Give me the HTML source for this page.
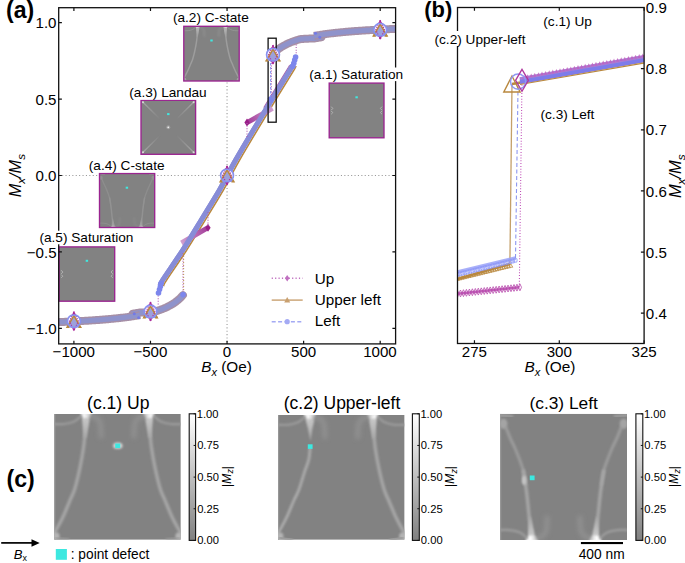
<!DOCTYPE html><html><head><meta charset="utf-8"><style>
html,body{margin:0;padding:0;background:#fff;overflow:hidden}svg{display:block}
text{font-family:"Liberation Sans",sans-serif;fill:#000}
</style></head><body>
<svg width="685" height="563" viewBox="0 0 685 563">
<defs>
<filter id="bl1" x="-30%" y="-30%" width="160%" height="160%"><feGaussianBlur stdDeviation="0.9"/></filter>
<filter id="bl2" x="-50%" y="-50%" width="200%" height="200%"><feGaussianBlur stdDeviation="2"/></filter>
<filter id="bl05" x="-30%" y="-30%" width="160%" height="160%"><feGaussianBlur stdDeviation="0.5"/></filter>
<linearGradient id="cbar" x1="0" y1="0" x2="0" y2="1"><stop offset="0" stop-color="#ffffff"/><stop offset="1" stop-color="#808080"/></linearGradient>
<radialGradient id="glow"><stop offset="0" stop-color="#fff" stop-opacity="1"/><stop offset="1" stop-color="#fff" stop-opacity="0"/></radialGradient>
<clipPath id="clipA"><rect x="58.7" y="7.7" width="336.9" height="336.2"/></clipPath>
<clipPath id="clipB"><rect x="457.5" y="7.5" width="186.6" height="336.0"/></clipPath>
</defs>
<defs>
<filter id="pb08" x="-50%" y="-50%" width="200%" height="200%"><feGaussianBlur stdDeviation="0.8"/></filter>
<filter id="pb1" x="-50%" y="-50%" width="200%" height="200%"><feGaussianBlur stdDeviation="1"/></filter>
<filter id="pb12" x="-50%" y="-50%" width="200%" height="200%"><feGaussianBlur stdDeviation="1.2"/></filter>
<filter id="pb2" x="-50%" y="-50%" width="200%" height="200%"><feGaussianBlur stdDeviation="2"/></filter>
<linearGradient id="vg2" x1="0" y1="0" x2="0" y2="1"><stop offset="0" stop-color="#cfcfcf"/><stop offset="1" stop-color="#a6a6a6"/></linearGradient>
<linearGradient id="vg3" x1="0" y1="0" x2="0" y2="1"><stop offset="0" stop-color="#a6a6a6"/><stop offset="1" stop-color="#d2d2d2"/></linearGradient>
<linearGradient id="vg" x1="0" y1="0" x2="0" y2="1"><stop offset="0" stop-color="#d0d0d0"/><stop offset="1" stop-color="#a0a0a0"/></linearGradient>
<symbol id="pc1" viewBox="0 0 126.8 125.5" preserveAspectRatio="none" overflow="hidden">
<rect x="0" y="0" width="126.8" height="125.5" fill="#828282"/>
<rect x="0" y="0" width="1.2" height="125.5" fill="#979797"/>
<path d="M32.00,0.00 C31.87,2.50 31.65,9.33 31.20,15.00 C30.75,20.67 30.25,27.33 29.30,34.00 C28.35,40.67 26.97,48.17 25.50,55.00 C24.03,61.83 22.10,69.83 20.50,75.00 C18.90,80.17 17.80,81.50 15.90,86.00 C14.00,90.50 11.18,97.50 9.10,102.00 C7.02,106.50 4.92,110.25 3.40,113.00 C1.88,115.75 0.57,117.58 0.00,118.50" fill="none" stroke="#a6a6a6" stroke-width="3.4" stroke-linecap="round" filter="url(#pb1)" opacity="1"/>
<path d="M27.5,0 L36.5,0 L32.2,24 L29.6,24 Z" fill="url(#vg2)" filter="url(#pb12)"/>
<ellipse cx="32" cy="0" rx="5.5" ry="4" fill="#fff" filter="url(#pb12)" opacity="0.8"/>
<path d="M27.00,2.00 C25.83,2.92 22.83,6.17 20.00,7.50 C17.17,8.83 13.33,9.58 10.00,10.00 C6.67,10.42 1.67,10.00 0.00,10.00" fill="none" stroke="#9c9c9c" stroke-width="2.2" stroke-linecap="round" filter="url(#pb1)" opacity="1"/>
<path d="M36.50,2.00 C37.42,2.25 40.42,2.33 42.00,3.50 C43.58,4.67 45.17,5.92 46.00,9.00 C46.83,12.08 46.83,19.83 47.00,22.00" fill="none" stroke="#909090" stroke-width="5" stroke-linecap="round" filter="url(#pb2)" opacity="1"/>
<ellipse cx="1.5" cy="122" rx="4" ry="4" fill="#b4b4b4" filter="url(#pb12)"/>
<path d="M2.00,123.50 C3.00,123.67 6.00,124.25 8.00,124.50 C10.00,124.75 13.00,124.92 14.00,125.00" fill="none" stroke="#9c9c9c" stroke-width="2" stroke-linecap="round" filter="url(#pb08)" opacity="1"/>
<path d="M94.80,0.00 C94.93,2.50 95.15,9.33 95.60,15.00 C96.05,20.67 96.55,27.33 97.50,34.00 C98.45,40.67 99.83,48.17 101.30,55.00 C102.77,61.83 104.70,69.83 106.30,75.00 C107.90,80.17 109.00,81.50 110.90,86.00 C112.80,90.50 115.62,97.50 117.70,102.00 C119.78,106.50 121.88,110.25 123.40,113.00 C124.92,115.75 126.23,117.58 126.80,118.50" fill="none" stroke="#a6a6a6" stroke-width="3.4" stroke-linecap="round" filter="url(#pb1)" opacity="1"/>
<path d="M99.3,0 L90.3,0 L94.6,24 L97.19999999999999,24 Z" fill="url(#vg2)" filter="url(#pb12)"/>
<ellipse cx="94.8" cy="0" rx="5.5" ry="4" fill="#fff" filter="url(#pb12)" opacity="0.8"/>
<path d="M99.80,2.00 C100.97,2.92 103.97,6.17 106.80,7.50 C109.63,8.83 113.47,9.58 116.80,10.00 C120.13,10.42 125.13,10.00 126.80,10.00" fill="none" stroke="#9c9c9c" stroke-width="2.2" stroke-linecap="round" filter="url(#pb1)" opacity="1"/>
<path d="M90.30,2.00 C89.38,2.25 86.38,2.33 84.80,3.50 C83.22,4.67 81.63,5.92 80.80,9.00 C79.97,12.08 79.97,19.83 79.80,22.00" fill="none" stroke="#909090" stroke-width="5" stroke-linecap="round" filter="url(#pb2)" opacity="1"/>
<ellipse cx="125.3" cy="122" rx="4" ry="4" fill="#b4b4b4" filter="url(#pb12)"/>
<path d="M124.80,123.50 C123.80,123.67 120.80,124.25 118.80,124.50 C116.80,124.75 113.80,124.92 112.80,125.00" fill="none" stroke="#9c9c9c" stroke-width="2" stroke-linecap="round" filter="url(#pb08)" opacity="1"/>
</symbol>
<symbol id="pc2" viewBox="0 0 126.8 125.5" preserveAspectRatio="none" overflow="hidden">
<rect x="0" y="0" width="126.8" height="125.5" fill="#828282"/>
<rect x="0" y="0" width="1.2" height="125.5" fill="#979797"/>
<path d="M26.5,0 Q30.5,14 32.5,27 Q34.0,14 37.5,0 Z" fill="url(#vg)" filter="url(#pb08)"/>
<path d="M32.00,35.00 C31.80,36.67 31.68,41.33 30.80,45.00 C29.92,48.67 28.33,52.00 26.70,57.00 C25.07,62.00 22.80,70.17 21.00,75.00 C19.20,79.83 17.88,81.50 15.90,86.00 C13.92,90.50 11.18,97.50 9.10,102.00 C7.02,106.50 4.92,110.25 3.40,113.00 C1.88,115.75 0.57,117.58 0.00,118.50" fill="none" stroke="#a9a9a9" stroke-width="3" stroke-linecap="round" filter="url(#pb08)" opacity="1"/>
<ellipse cx="32" cy="0" rx="5.5" ry="4" fill="#fff" filter="url(#pb12)" opacity="0.8"/>
<path d="M27.00,2.00 C25.83,2.92 22.83,6.17 20.00,7.50 C17.17,8.83 13.33,9.58 10.00,10.00 C6.67,10.42 1.67,10.00 0.00,10.00" fill="none" stroke="#9c9c9c" stroke-width="2.2" stroke-linecap="round" filter="url(#pb1)" opacity="1"/>
<path d="M36.50,2.00 C37.42,2.25 40.42,2.33 42.00,3.50 C43.58,4.67 45.17,5.92 46.00,9.00 C46.83,12.08 46.83,19.83 47.00,22.00" fill="none" stroke="#909090" stroke-width="5" stroke-linecap="round" filter="url(#pb2)" opacity="1"/>
<ellipse cx="1.5" cy="122" rx="4" ry="4" fill="#b4b4b4" filter="url(#pb12)"/>
<path d="M2.00,123.50 C3.00,123.67 6.00,124.25 8.00,124.50 C10.00,124.75 13.00,124.92 14.00,125.00" fill="none" stroke="#9c9c9c" stroke-width="2" stroke-linecap="round" filter="url(#pb08)" opacity="1"/>
<path d="M94.80,0.00 C94.93,2.50 95.15,9.33 95.60,15.00 C96.05,20.67 96.55,27.33 97.50,34.00 C98.45,40.67 99.83,48.17 101.30,55.00 C102.77,61.83 104.70,69.83 106.30,75.00 C107.90,80.17 109.00,81.50 110.90,86.00 C112.80,90.50 115.62,97.50 117.70,102.00 C119.78,106.50 121.88,110.25 123.40,113.00 C124.92,115.75 126.23,117.58 126.80,118.50" fill="none" stroke="#a6a6a6" stroke-width="3.4" stroke-linecap="round" filter="url(#pb1)" opacity="1"/>
<path d="M99.3,0 L90.3,0 L94.6,24 L97.19999999999999,24 Z" fill="url(#vg2)" filter="url(#pb12)"/>
<ellipse cx="94.8" cy="0" rx="5.5" ry="4" fill="#fff" filter="url(#pb12)" opacity="0.8"/>
<path d="M99.80,2.00 C100.97,2.92 103.97,6.17 106.80,7.50 C109.63,8.83 113.47,9.58 116.80,10.00 C120.13,10.42 125.13,10.00 126.80,10.00" fill="none" stroke="#9c9c9c" stroke-width="2.2" stroke-linecap="round" filter="url(#pb1)" opacity="1"/>
<path d="M90.30,2.00 C89.38,2.25 86.38,2.33 84.80,3.50 C83.22,4.67 81.63,5.92 80.80,9.00 C79.97,12.08 79.97,19.83 79.80,22.00" fill="none" stroke="#909090" stroke-width="5" stroke-linecap="round" filter="url(#pb2)" opacity="1"/>
<ellipse cx="125.3" cy="122" rx="4" ry="4" fill="#b4b4b4" filter="url(#pb12)"/>
<path d="M124.80,123.50 C123.80,123.67 120.80,124.25 118.80,124.50 C116.80,124.75 113.80,124.92 112.80,125.00" fill="none" stroke="#9c9c9c" stroke-width="2" stroke-linecap="round" filter="url(#pb08)" opacity="1"/>
</symbol>
<symbol id="pc3" viewBox="0 0 126.8 125.5" preserveAspectRatio="none" overflow="hidden">
<rect x="0" y="0" width="126.8" height="125.5" fill="#828282"/>
<rect x="0" y="0" width="1.2" height="125.5" fill="#979797"/>
<path d="M6.00,14.00 C6.67,15.67 8.53,20.67 10.00,24.00 C11.47,27.33 13.13,30.17 14.80,34.00 C16.47,37.83 18.58,43.17 20.00,47.00 C21.42,50.83 22.40,53.17 23.30,57.00 C24.20,60.83 25.05,67.83 25.40,70.00" fill="none" stroke="#9c9c9c" stroke-width="3" stroke-linecap="round" filter="url(#pb1)" opacity="1"/>
<path d="M23.30,57.00 C23.65,59.17 24.73,65.33 25.40,70.00 C26.07,74.67 26.62,78.83 27.30,85.00 C27.98,91.17 28.75,100.17 29.50,107.00 C30.25,113.83 31.42,122.83 31.80,126.00" fill="none" stroke="#a6a6a6" stroke-width="3.4" stroke-linecap="round" filter="url(#pb1)" opacity="1"/>
<path d="M29.2,102 L30.6,102 L36,126 L27.5,126 Z" fill="url(#vg3)" filter="url(#pb12)"/>
<ellipse cx="31.8" cy="125.5" rx="6" ry="4.5" fill="#fff" filter="url(#pb12)" opacity="0.95"/>
<path d="M27.00,123.50 C25.83,122.58 22.83,119.33 20.00,118.00 C17.17,116.67 13.33,115.92 10.00,115.50 C6.67,115.08 1.67,115.50 0.00,115.50" fill="none" stroke="#9e9e9e" stroke-width="2.2" stroke-linecap="round" filter="url(#pb08)" opacity="1"/>
<path d="M36.50,123.50 C37.42,123.25 40.42,123.17 42.00,122.00 C43.58,120.83 45.17,119.58 46.00,116.50 C46.83,113.42 46.83,105.67 47.00,103.50" fill="none" stroke="#909090" stroke-width="5" stroke-linecap="round" filter="url(#pb2)" opacity="1"/>
<ellipse cx="3.4" cy="10" rx="4" ry="5" fill="#a4a4a4" filter="url(#pb12)"/>
<path d="M0.00,1.50 C1.00,1.58 4.00,1.83 6.00,2.00 C8.00,2.17 11.00,2.42 12.00,2.50" fill="none" stroke="#a0a0a0" stroke-width="2.5" stroke-linecap="round" filter="url(#pb08)" opacity="1"/>
<ellipse cx="24" cy="66" rx="2.2" ry="4.5" fill="#c4c4c4" filter="url(#pb08)"/>
<path d="M120.80,14.00 C120.13,15.67 118.27,20.67 116.80,24.00 C115.33,27.33 113.67,30.17 112.00,34.00 C110.33,37.83 108.22,43.17 106.80,47.00 C105.38,50.83 104.40,53.17 103.50,57.00 C102.60,60.83 101.75,67.83 101.40,70.00" fill="none" stroke="#9c9c9c" stroke-width="3" stroke-linecap="round" filter="url(#pb1)" opacity="1"/>
<path d="M103.50,57.00 C103.15,59.17 102.07,65.33 101.40,70.00 C100.73,74.67 100.18,78.83 99.50,85.00 C98.82,91.17 98.05,100.17 97.30,107.00 C96.55,113.83 95.38,122.83 95.00,126.00" fill="none" stroke="#a6a6a6" stroke-width="3.4" stroke-linecap="round" filter="url(#pb1)" opacity="1"/>
<path d="M97.6,102 L96.19999999999999,102 L90.8,126 L99.3,126 Z" fill="url(#vg3)" filter="url(#pb12)"/>
<ellipse cx="95.0" cy="125.5" rx="6" ry="4.5" fill="#fff" filter="url(#pb12)" opacity="0.95"/>
<path d="M99.80,123.50 C100.97,122.58 103.97,119.33 106.80,118.00 C109.63,116.67 113.47,115.92 116.80,115.50 C120.13,115.08 125.13,115.50 126.80,115.50" fill="none" stroke="#9e9e9e" stroke-width="2.2" stroke-linecap="round" filter="url(#pb08)" opacity="1"/>
<path d="M90.30,123.50 C89.38,123.25 86.38,123.17 84.80,122.00 C83.22,120.83 81.63,119.58 80.80,116.50 C79.97,113.42 79.97,105.67 79.80,103.50" fill="none" stroke="#909090" stroke-width="5" stroke-linecap="round" filter="url(#pb2)" opacity="1"/>
<ellipse cx="123.39999999999999" cy="10" rx="4" ry="5" fill="#a4a4a4" filter="url(#pb12)"/>
<path d="M126.80,1.50 C125.80,1.58 122.80,1.83 120.80,2.00 C118.80,2.17 115.80,2.42 114.80,2.50" fill="none" stroke="#a0a0a0" stroke-width="2.5" stroke-linecap="round" filter="url(#pb08)" opacity="1"/>
</symbol>
<symbol id="pa4" viewBox="0 0 126.8 125.5" preserveAspectRatio="none" overflow="hidden">
<rect x="0" y="0" width="126.8" height="125.5" fill="#828282"/>
<rect x="0" y="0" width="1.2" height="125.5" fill="#979797"/>
<path d="M6.00,14.00 C6.67,15.67 8.53,20.67 10.00,24.00 C11.47,27.33 13.13,30.17 14.80,34.00 C16.47,37.83 18.58,43.17 20.00,47.00 C21.42,50.83 22.40,53.17 23.30,57.00 C24.20,60.83 25.05,67.83 25.40,70.00" fill="none" stroke="#9c9c9c" stroke-width="3" stroke-linecap="round" filter="url(#pb1)" opacity="1"/>
<path d="M23.30,57.00 C23.65,59.17 24.73,65.33 25.40,70.00 C26.07,74.67 26.62,78.83 27.30,85.00 C27.98,91.17 28.75,100.17 29.50,107.00 C30.25,113.83 31.42,122.83 31.80,126.00" fill="none" stroke="#a6a6a6" stroke-width="3.4" stroke-linecap="round" filter="url(#pb1)" opacity="1"/>
<path d="M29.2,102 L30.6,102 L36,126 L27.5,126 Z" fill="url(#vg3)" filter="url(#pb12)"/>
<ellipse cx="31.8" cy="125.5" rx="6" ry="4.5" fill="#fff" filter="url(#pb12)" opacity="0.95"/>
<path d="M27.00,123.50 C25.83,122.58 22.83,119.33 20.00,118.00 C17.17,116.67 13.33,115.92 10.00,115.50 C6.67,115.08 1.67,115.50 0.00,115.50" fill="none" stroke="#9e9e9e" stroke-width="2.2" stroke-linecap="round" filter="url(#pb08)" opacity="1"/>
<path d="M36.50,123.50 C37.42,123.25 40.42,123.17 42.00,122.00 C43.58,120.83 45.17,119.58 46.00,116.50 C46.83,113.42 46.83,105.67 47.00,103.50" fill="none" stroke="#909090" stroke-width="5" stroke-linecap="round" filter="url(#pb2)" opacity="1"/>
<ellipse cx="3.4" cy="10" rx="4" ry="5" fill="#a4a4a4" filter="url(#pb12)"/>
<path d="M0.00,1.50 C1.00,1.58 4.00,1.83 6.00,2.00 C8.00,2.17 11.00,2.42 12.00,2.50" fill="none" stroke="#a0a0a0" stroke-width="2.5" stroke-linecap="round" filter="url(#pb08)" opacity="1"/>
<path d="M120.80,14.00 C120.13,15.67 118.27,20.67 116.80,24.00 C115.33,27.33 113.67,30.17 112.00,34.00 C110.33,37.83 108.22,43.17 106.80,47.00 C105.38,50.83 104.40,53.17 103.50,57.00 C102.60,60.83 101.75,67.83 101.40,70.00" fill="none" stroke="#9c9c9c" stroke-width="3" stroke-linecap="round" filter="url(#pb1)" opacity="1"/>
<path d="M103.50,57.00 C103.15,59.17 102.07,65.33 101.40,70.00 C100.73,74.67 100.18,78.83 99.50,85.00 C98.82,91.17 98.05,100.17 97.30,107.00 C96.55,113.83 95.38,122.83 95.00,126.00" fill="none" stroke="#a6a6a6" stroke-width="3.4" stroke-linecap="round" filter="url(#pb1)" opacity="1"/>
<path d="M97.6,102 L96.19999999999999,102 L90.8,126 L99.3,126 Z" fill="url(#vg3)" filter="url(#pb12)"/>
<ellipse cx="95.0" cy="125.5" rx="6" ry="4.5" fill="#fff" filter="url(#pb12)" opacity="0.95"/>
<path d="M99.80,123.50 C100.97,122.58 103.97,119.33 106.80,118.00 C109.63,116.67 113.47,115.92 116.80,115.50 C120.13,115.08 125.13,115.50 126.80,115.50" fill="none" stroke="#9e9e9e" stroke-width="2.2" stroke-linecap="round" filter="url(#pb08)" opacity="1"/>
<path d="M90.30,123.50 C89.38,123.25 86.38,123.17 84.80,122.00 C83.22,120.83 81.63,119.58 80.80,116.50 C79.97,113.42 79.97,105.67 79.80,103.50" fill="none" stroke="#909090" stroke-width="5" stroke-linecap="round" filter="url(#pb2)" opacity="1"/>
<ellipse cx="123.39999999999999" cy="10" rx="4" ry="5" fill="#a4a4a4" filter="url(#pb12)"/>
<path d="M126.80,1.50 C125.80,1.58 122.80,1.83 120.80,2.00 C118.80,2.17 115.80,2.42 114.80,2.50" fill="none" stroke="#a0a0a0" stroke-width="2.5" stroke-linecap="round" filter="url(#pb08)" opacity="1"/>
</symbol>
</defs>
<line x1="227.05" y1="7.7" x2="227.05" y2="343.9" stroke="#9a9a9a" stroke-width="1.1" stroke-dasharray="1.1 2.3"/>
<line x1="58.7" y1="175.50" x2="395.6" y2="175.50" stroke="#9a9a9a" stroke-width="1.1" stroke-dasharray="1.1 2.3"/>
<g clip-path="url(#clipA)">
<path d="M271.20,55.79 L272.20,54.67 L273.20,53.62 L274.20,52.64 L275.20,51.72 L276.20,50.86 L277.20,50.04 L278.20,49.28 L279.20,48.55 L280.20,47.86 L281.20,47.21 L282.20,46.59 L283.20,46.00 L284.20,45.44 L285.20,44.91 L286.20,44.40 L287.20,43.91 L288.20,43.44 L289.20,43.00 L290.20,42.57 L291.20,42.16 L292.20,41.77 L293.20,41.39 L294.20,41.03 L295.20,40.68 L296.20,40.35 L297.20,40.02 L298.20,39.71 L299.20,39.41 L300.20,39.16 L301.20,39.06 L302.20,38.98 L303.20,38.90 L304.20,38.83 L305.20,38.77 L306.20,38.72 L307.20,38.68 L308.20,38.64 L309.20,38.61 L310.20,38.58 L311.20,38.57 L312.20,38.55 L313.20,38.55 L314.20,38.51 L315.20,38.33 L316.20,38.15 L317.20,37.98 L318.20,37.81 L319.20,37.65 L320.20,37.49 L321.20,37.33" fill="none" stroke="#a68fa6" stroke-width="8" stroke-linecap="round"/>
<path d="M271.20,55.79 L272.20,54.67 L273.20,53.62 L274.20,52.64 L275.20,51.72 L276.20,50.86 L277.20,50.04 L278.20,49.28 L279.20,48.55 L280.20,47.86 L281.20,47.21 L282.20,46.59 L283.20,46.00 L284.20,45.44 L285.20,44.91 L286.20,44.40 L287.20,43.91 L288.20,43.44 L289.20,43.00 L290.20,42.57 L291.20,42.16 L292.20,41.77 L293.20,41.39 L294.20,41.03 L295.20,40.68 L296.20,40.35 L297.20,40.02 L298.20,39.71 L299.20,39.41 L300.20,39.16 L301.20,39.06 L302.20,38.98 L303.20,38.90 L304.20,38.83 L305.20,38.77 L306.20,38.72 L307.20,38.68 L308.20,38.64 L309.20,38.61 L310.20,38.58 L311.20,38.57 L312.20,38.55 L313.20,38.55 L314.20,38.51 L315.20,38.33 L316.20,38.15 L317.20,37.98 L318.20,37.81 L319.20,37.65 L320.20,37.49 L321.20,37.33" fill="none" stroke="#8f93cb" stroke-width="5" stroke-linecap="round"/>
<path d="M182.90,295.21 L181.90,296.33 L180.90,297.38 L179.90,298.36 L178.90,299.28 L177.90,300.14 L176.90,300.96 L175.90,301.72 L174.90,302.45 L173.90,303.14 L172.90,303.79 L171.90,304.41 L170.90,305.00 L169.90,305.56 L168.90,306.09 L167.90,306.60 L166.90,307.09 L165.90,307.56 L164.90,308.00 L163.90,308.43 L162.90,308.84 L161.90,309.23 L160.90,309.61 L159.90,309.97 L158.90,310.32 L157.90,310.65 L156.90,310.98 L155.90,311.29 L154.90,311.59 L153.90,311.84 L152.90,311.94 L151.90,312.02 L150.90,312.10 L149.90,312.17 L148.90,312.23 L147.90,312.28 L146.90,312.32 L145.90,312.36 L144.90,312.39 L143.90,312.42 L142.90,312.43 L141.90,312.45 L140.90,312.45 L139.90,312.49 L138.90,312.67 L137.90,312.85 L136.90,313.02 L135.90,313.19 L134.90,313.35 L133.90,313.51 L132.90,313.67" fill="none" stroke="#a68fa6" stroke-width="8" stroke-linecap="round"/>
<path d="M182.90,295.21 L181.90,296.33 L180.90,297.38 L179.90,298.36 L178.90,299.28 L177.90,300.14 L176.90,300.96 L175.90,301.72 L174.90,302.45 L173.90,303.14 L172.90,303.79 L171.90,304.41 L170.90,305.00 L169.90,305.56 L168.90,306.09 L167.90,306.60 L166.90,307.09 L165.90,307.56 L164.90,308.00 L163.90,308.43 L162.90,308.84 L161.90,309.23 L160.90,309.61 L159.90,309.97 L158.90,310.32 L157.90,310.65 L156.90,310.98 L155.90,311.29 L154.90,311.59 L153.90,311.84 L152.90,311.94 L151.90,312.02 L150.90,312.10 L149.90,312.17 L148.90,312.23 L147.90,312.28 L146.90,312.32 L145.90,312.36 L144.90,312.39 L143.90,312.42 L142.90,312.43 L141.90,312.45 L140.90,312.45 L139.90,312.49 L138.90,312.67 L137.90,312.85 L136.90,313.02 L135.90,313.19 L134.90,313.35 L133.90,313.51 L132.90,313.67" fill="none" stroke="#8f93cb" stroke-width="5" stroke-linecap="round"/>
<path d="M314.00,35.95 L315.00,35.76 L316.00,35.58 L317.00,35.41 L318.00,35.24 L319.00,35.08 L320.00,34.92 L321.00,34.76 L322.00,34.61 L323.00,34.46 L324.00,34.32 L325.00,34.18 L326.00,34.04 L327.00,33.90 L328.00,33.77 L329.00,33.65 L330.00,33.52 L331.00,33.40 L332.00,33.28 L333.00,33.16 L334.00,33.05 L335.00,32.93 L336.00,32.82 L337.00,32.72 L338.00,32.61 L339.00,32.51 L340.00,32.41 L341.00,32.31 L342.00,32.21 L343.00,32.12 L344.00,32.03 L345.00,31.93 L346.00,31.85 L347.00,31.76 L348.00,31.67 L349.00,31.59 L350.00,31.50 L351.00,31.42 L352.00,31.34 L353.00,31.27 L354.00,31.19 L355.00,31.11 L356.00,31.04 L357.00,30.97 L358.00,30.89 L359.00,30.82 L360.00,30.75 L361.00,30.69 L362.00,30.62 L363.00,30.55 L364.00,30.49 L365.00,30.43 L366.00,30.36 L367.00,30.30 L368.00,30.24 L369.00,30.18 L370.00,30.12 L371.00,30.06 L372.00,30.01 L373.00,29.95 L374.00,29.90 L375.00,29.84 L376.00,29.79 L377.00,29.74 L378.00,29.68 L379.00,29.63 L380.00,29.58 L381.00,29.53 L382.00,29.48 L383.00,29.43 L384.00,29.39 L385.00,29.34 L386.00,29.29 L387.00,29.25 L388.00,29.20 L389.00,29.16 L390.00,29.12 L391.00,29.07 L392.00,29.03 L393.00,28.99 L394.00,28.95 L395.00,28.90 L396.00,28.86" fill="none" stroke="#a68fa6" stroke-width="8" stroke-linecap="butt"/>
<path d="M314.00,35.95 L315.00,35.76 L316.00,35.58 L317.00,35.41 L318.00,35.24 L319.00,35.08 L320.00,34.92 L321.00,34.76 L322.00,34.61 L323.00,34.46 L324.00,34.32 L325.00,34.18 L326.00,34.04 L327.00,33.90 L328.00,33.77 L329.00,33.65 L330.00,33.52 L331.00,33.40 L332.00,33.28 L333.00,33.16 L334.00,33.05 L335.00,32.93 L336.00,32.82 L337.00,32.72 L338.00,32.61 L339.00,32.51 L340.00,32.41 L341.00,32.31 L342.00,32.21 L343.00,32.12 L344.00,32.03 L345.00,31.93 L346.00,31.85 L347.00,31.76 L348.00,31.67 L349.00,31.59 L350.00,31.50 L351.00,31.42 L352.00,31.34 L353.00,31.27 L354.00,31.19 L355.00,31.11 L356.00,31.04 L357.00,30.97 L358.00,30.89 L359.00,30.82 L360.00,30.75 L361.00,30.69 L362.00,30.62 L363.00,30.55 L364.00,30.49 L365.00,30.43 L366.00,30.36 L367.00,30.30 L368.00,30.24 L369.00,30.18 L370.00,30.12 L371.00,30.06 L372.00,30.01 L373.00,29.95 L374.00,29.90 L375.00,29.84 L376.00,29.79 L377.00,29.74 L378.00,29.68 L379.00,29.63 L380.00,29.58 L381.00,29.53 L382.00,29.48 L383.00,29.43 L384.00,29.39 L385.00,29.34 L386.00,29.29 L387.00,29.25 L388.00,29.20 L389.00,29.16 L390.00,29.12 L391.00,29.07 L392.00,29.03 L393.00,28.99 L394.00,28.95 L395.00,28.90 L396.00,28.86" fill="none" stroke="#8f93cb" stroke-width="5" stroke-linecap="butt"/>
<path d="M140.10,315.05 L139.10,315.24 L138.10,315.42 L137.10,315.59 L136.10,315.76 L135.10,315.92 L134.10,316.08 L133.10,316.24 L132.10,316.39 L131.10,316.54 L130.10,316.68 L129.10,316.82 L128.10,316.96 L127.10,317.10 L126.10,317.23 L125.10,317.35 L124.10,317.48 L123.10,317.60 L122.10,317.72 L121.10,317.84 L120.10,317.95 L119.10,318.07 L118.10,318.18 L117.10,318.28 L116.10,318.39 L115.10,318.49 L114.10,318.59 L113.10,318.69 L112.10,318.79 L111.10,318.88 L110.10,318.97 L109.10,319.07 L108.10,319.15 L107.10,319.24 L106.10,319.33 L105.10,319.41 L104.10,319.50 L103.10,319.58 L102.10,319.66 L101.10,319.73 L100.10,319.81 L99.10,319.89 L98.10,319.96 L97.10,320.03 L96.10,320.11 L95.10,320.18 L94.10,320.25 L93.10,320.31 L92.10,320.38 L91.10,320.45 L90.10,320.51 L89.10,320.57 L88.10,320.64 L87.10,320.70 L86.10,320.76 L85.10,320.82 L84.10,320.88 L83.10,320.94 L82.10,320.99 L81.10,321.05 L80.10,321.10 L79.10,321.16 L78.10,321.21 L77.10,321.26 L76.10,321.32 L75.10,321.37 L74.10,321.42 L73.10,321.47 L72.10,321.52 L71.10,321.57 L70.10,321.61 L69.10,321.66 L68.10,321.71 L67.10,321.75 L66.10,321.80 L65.10,321.84 L64.10,321.88 L63.10,321.93 L62.10,321.97 L61.10,322.01 L60.10,322.05 L59.10,322.10 L58.10,322.14" fill="none" stroke="#a68fa6" stroke-width="8" stroke-linecap="butt"/>
<path d="M140.10,315.05 L139.10,315.24 L138.10,315.42 L137.10,315.59 L136.10,315.76 L135.10,315.92 L134.10,316.08 L133.10,316.24 L132.10,316.39 L131.10,316.54 L130.10,316.68 L129.10,316.82 L128.10,316.96 L127.10,317.10 L126.10,317.23 L125.10,317.35 L124.10,317.48 L123.10,317.60 L122.10,317.72 L121.10,317.84 L120.10,317.95 L119.10,318.07 L118.10,318.18 L117.10,318.28 L116.10,318.39 L115.10,318.49 L114.10,318.59 L113.10,318.69 L112.10,318.79 L111.10,318.88 L110.10,318.97 L109.10,319.07 L108.10,319.15 L107.10,319.24 L106.10,319.33 L105.10,319.41 L104.10,319.50 L103.10,319.58 L102.10,319.66 L101.10,319.73 L100.10,319.81 L99.10,319.89 L98.10,319.96 L97.10,320.03 L96.10,320.11 L95.10,320.18 L94.10,320.25 L93.10,320.31 L92.10,320.38 L91.10,320.45 L90.10,320.51 L89.10,320.57 L88.10,320.64 L87.10,320.70 L86.10,320.76 L85.10,320.82 L84.10,320.88 L83.10,320.94 L82.10,320.99 L81.10,321.05 L80.10,321.10 L79.10,321.16 L78.10,321.21 L77.10,321.26 L76.10,321.32 L75.10,321.37 L74.10,321.42 L73.10,321.47 L72.10,321.52 L71.10,321.57 L70.10,321.61 L69.10,321.66 L68.10,321.71 L67.10,321.75 L66.10,321.80 L65.10,321.84 L64.10,321.88 L63.10,321.93 L62.10,321.97 L61.10,322.01 L60.10,322.05 L59.10,322.10 L58.10,322.14" fill="none" stroke="#8f93cb" stroke-width="5" stroke-linecap="butt"/>
<circle cx="315.5" cy="33.3" r="1.5" fill="#6a74f0" opacity="0.8"/>
<circle cx="138.6" cy="317.7" r="1.5" fill="#6a74f0" opacity="0.8"/>
<circle cx="319.8" cy="37.3" r="1.5" fill="#6a74f0" opacity="0.8"/>
<circle cx="134.3" cy="313.7" r="1.5" fill="#6a74f0" opacity="0.8"/>
<path d="M160.00,285.50 C160.45,284.58 158.90,285.92 162.70,280.00 C166.50,274.08 176.37,260.00 182.80,250.00 C189.23,240.00 195.18,230.00 201.30,220.00 C207.42,210.00 215.17,197.42 219.50,190.00 C223.83,182.58 224.60,180.50 227.30,175.50 C230.00,170.50 231.35,167.58 235.70,160.00 C240.05,152.42 247.42,140.00 253.40,130.00 C259.38,120.00 265.50,110.00 271.60,100.00 C277.70,90.00 286.50,75.75 290.00,70.00 C293.50,64.25 292.17,66.25 292.60,65.50" fill="none" stroke="#b9883e" stroke-width="1.6" transform="translate(3.6,0.6)"/>
<clipPath id="cupper"><rect x="240" y="50" width="80" height="58"/></clipPath>
<path d="M160.00,285.50 C160.45,284.58 158.90,285.92 162.70,280.00 C166.50,274.08 176.37,260.00 182.80,250.00 C189.23,240.00 195.18,230.00 201.30,220.00 C207.42,210.00 215.17,197.42 219.50,190.00 C223.83,182.58 224.60,180.50 227.30,175.50 C230.00,170.50 231.35,167.58 235.70,160.00 C240.05,152.42 247.42,140.00 253.40,130.00 C259.38,120.00 265.50,110.00 271.60,100.00 C277.70,90.00 286.50,75.75 290.00,70.00 C293.50,64.25 292.17,66.25 292.60,65.50" fill="none" stroke="#b060a8" stroke-width="1.1" transform="translate(-2.9,-0.4)" clip-path="url(#cupper)"/>
<path d="M160.00,285.50 C160.45,284.58 158.90,285.92 162.70,280.00 C166.50,274.08 176.37,260.00 182.80,250.00 C189.23,240.00 195.18,230.00 201.30,220.00 C207.42,210.00 215.17,197.42 219.50,190.00 C223.83,182.58 224.60,180.50 227.30,175.50 C230.00,170.50 231.35,167.58 235.70,160.00 C240.05,152.42 247.42,140.00 253.40,130.00 C259.38,120.00 265.50,110.00 271.60,100.00 C277.70,90.00 286.50,75.75 290.00,70.00 C293.50,64.25 292.17,66.25 292.60,65.50" fill="none" stroke="#878cd7" stroke-width="5"/>
<linearGradient id="mg1" gradientUnits="userSpaceOnUse" x1="247" y1="122.6" x2="272.6" y2="108.4"><stop offset="0" stop-color="#a23a98"/><stop offset="1" stop-color="#d0a0d0"/></linearGradient>
<linearGradient id="mg2" gradientUnits="userSpaceOnUse" x1="208" y1="227.7" x2="181.4" y2="243"><stop offset="0" stop-color="#a23a98"/><stop offset="1" stop-color="#d0a0d0"/></linearGradient>
<line x1="247" y1="122.6" x2="272.6" y2="108.4" stroke="url(#mg1)" stroke-width="5"/>
<line x1="181.4" y1="243" x2="208" y2="227.7" stroke="url(#mg2)" stroke-width="5"/>
</g>
<path d="M160.00,285.50 C160.45,284.58 158.90,285.92 162.70,280.00 C166.50,274.08 176.37,260.00 182.80,250.00 C189.23,240.00 195.18,230.00 201.30,220.00 C207.42,210.00 215.17,197.42 219.50,190.00 C223.83,182.58 224.60,180.50 227.30,175.50 C230.00,170.50 231.35,167.58 235.70,160.00 C240.05,152.42 247.42,140.00 253.40,130.00 C259.38,120.00 265.50,110.00 271.60,100.00 C277.70,90.00 286.50,75.75 290.00,70.00 C293.50,64.25 292.17,66.25 292.60,65.50" fill="none" stroke="#878cd7" stroke-width="5"/>
<path d="M247,118.6 L249.6,122.6 L247,126.6 L244.4,122.6 Z" fill="#9a1e88"/>
<path d="M208,223.7 L210.6,227.7 L208,231.7 L205.4,227.7 Z" fill="#9a1e88"/>
<line x1="271.4" y1="55" x2="271.4" y2="101" stroke="#b05ab0" stroke-width="1.1" stroke-dasharray="1 1.6"/>
<line x1="270.6" y1="55" x2="270.6" y2="101" stroke="#8c96f0" stroke-width="1.1" stroke-dasharray="2.5 1.5"/>
<line x1="183" y1="253" x2="183" y2="295" stroke="#b05ab0" stroke-width="1.1" stroke-dasharray="1 1.6"/>
<line x1="183.6" y1="253" x2="183.6" y2="295" stroke="#c09a60" stroke-width="1.1" stroke-dasharray="1 2"/>
<line x1="296.2" y1="44.5" x2="296.2" y2="56" stroke="#b05ab0" stroke-width="1.1" stroke-dasharray="1 1.6"/>
<line x1="158.2" y1="293" x2="158.2" y2="305" stroke="#b05ab0" stroke-width="1.1" stroke-dasharray="1 1.6"/>
<line x1="247" y1="123" x2="247" y2="138" stroke="#b05ab0" stroke-width="1.1" stroke-dasharray="1 1.6"/>
<line x1="208" y1="212" x2="208" y2="227" stroke="#b05ab0" stroke-width="1.1" stroke-dasharray="1 1.6"/>
<circle cx="183.1" cy="294.6" r="2.8" fill="#7c86ec"/>
<circle cx="295.6" cy="57" r="2.8" fill="#7c86ec"/>
<circle cx="294.7" cy="60" r="2.8" fill="#7c86ec"/>
<circle cx="293.8" cy="63.2" r="2.8" fill="#7c86ec"/>
<circle cx="292.8" cy="66.3" r="2.8" fill="#7c86ec"/>
<circle cx="158.5" cy="293" r="2.8" fill="#7c86ec"/>
<circle cx="159.5" cy="289.5" r="2.8" fill="#7c86ec"/>
<circle cx="160.4" cy="286.5" r="2.8" fill="#7c86ec"/>
<circle cx="161.2" cy="283.5" r="2.8" fill="#7c86ec"/>
<circle cx="271" cy="100.6" r="2.4" fill="#7c86ec"/>
<circle cx="270" cy="99" r="2.4" fill="#7c86ec"/>
<rect x="268.1" y="38.2" width="8.1" height="84" fill="none" stroke="#111" stroke-width="1.3"/>
<circle cx="73.9" cy="321.2" r="6.4" fill="#fff"/>
<path d="M67.0,327.59999999999997 L73.9,315.59999999999997 L80.80000000000001,327.59999999999997 Z" fill="#9ca0dc"/>
<path d="M67.0,327.59999999999997 L73.9,315.59999999999997 L80.80000000000001,327.59999999999997" fill="none" stroke="#b9883e" stroke-width="1.6"/>
<path d="M73.9,311.59999999999997 L78.30000000000001,321.2 L73.9,330.8 L69.5,321.2 Z" fill="none" stroke="#b0389e" stroke-width="1.2" stroke-dasharray="1.3 1.1"/>
<path d="M65.7,328.09999999999997 L68.30000000000001,325.0 L69.7,328.09999999999997 Z M82.10000000000001,328.09999999999997 L79.5,325.0 L78.10000000000001,328.09999999999997 Z" fill="#b9883e"/>
<circle cx="73.9" cy="321.2" r="6.4" fill="none" stroke="#8890f0" stroke-width="1.7"/>
<path d="M73.9,311.2 L75.5,314.2 L72.30000000000001,314.2 Z M73.9,331.2 L75.5,328.2 L72.30000000000001,328.2 Z" fill="#a82898"/>
<circle cx="150.5" cy="311.6" r="6.4" fill="#fff"/>
<path d="M143.6,318.0 L150.5,306.0 L157.4,318.0 Z" fill="#9ca0dc"/>
<path d="M143.6,318.0 L150.5,306.0 L157.4,318.0" fill="none" stroke="#b9883e" stroke-width="1.6"/>
<path d="M150.5,302.0 L154.9,311.6 L150.5,321.20000000000005 L146.1,311.6 Z" fill="none" stroke="#b0389e" stroke-width="1.2" stroke-dasharray="1.3 1.1"/>
<path d="M142.3,318.5 L144.9,315.40000000000003 L146.3,318.5 Z M158.7,318.5 L156.1,315.40000000000003 L154.7,318.5 Z" fill="#b9883e"/>
<circle cx="150.5" cy="311.6" r="6.4" fill="none" stroke="#8890f0" stroke-width="1.7"/>
<path d="M150.5,301.6 L152.1,304.6 L148.9,304.6 Z M150.5,321.6 L152.1,318.6 L148.9,318.6 Z" fill="#a82898"/>
<circle cx="227.05" cy="175.5" r="6.4" fill="#fff"/>
<path d="M220.15,181.9 L227.05,169.9 L233.95000000000002,181.9 Z" fill="#9ca0dc"/>
<path d="M220.15,181.9 L227.05,169.9 L233.95000000000002,181.9" fill="none" stroke="#b9883e" stroke-width="1.6"/>
<path d="M227.05,165.9 L231.45000000000002,175.5 L227.05,185.1 L222.65,175.5 Z" fill="none" stroke="#b0389e" stroke-width="1.2" stroke-dasharray="1.3 1.1"/>
<path d="M218.85000000000002,182.4 L221.45000000000002,179.3 L222.85000000000002,182.4 Z M235.25,182.4 L232.65,179.3 L231.25,182.4 Z" fill="#b9883e"/>
<circle cx="227.05" cy="175.5" r="6.4" fill="none" stroke="#8890f0" stroke-width="1.7"/>
<path d="M227.05,165.5 L228.65,168.5 L225.45000000000002,168.5 Z M227.05,185.5 L228.65,182.5 L225.45000000000002,182.5 Z" fill="#a82898"/>
<circle cx="273" cy="54.7" r="6.4" fill="#fff"/>
<path d="M266.1,61.1 L273,49.1 L279.9,61.1 Z" fill="#9ca0dc"/>
<path d="M266.1,61.1 L273,49.1 L279.9,61.1" fill="none" stroke="#b9883e" stroke-width="1.6"/>
<path d="M273,45.1 L277.4,54.7 L273,64.3 L268.6,54.7 Z" fill="none" stroke="#b0389e" stroke-width="1.2" stroke-dasharray="1.3 1.1"/>
<path d="M264.8,61.6 L267.4,58.5 L268.8,61.6 Z M281.2,61.6 L278.6,58.5 L277.2,61.6 Z" fill="#b9883e"/>
<circle cx="273" cy="54.7" r="6.4" fill="none" stroke="#8890f0" stroke-width="1.7"/>
<path d="M273,44.7 L274.6,47.7 L271.4,47.7 Z M273,64.7 L274.6,61.7 L271.4,61.7 Z" fill="#a82898"/>
<circle cx="380.2" cy="29.8" r="6.4" fill="#fff"/>
<path d="M373.3,36.2 L380.2,24.200000000000003 L387.09999999999997,36.2 Z" fill="#9ca0dc"/>
<path d="M373.3,36.2 L380.2,24.200000000000003 L387.09999999999997,36.2" fill="none" stroke="#b9883e" stroke-width="1.6"/>
<path d="M380.2,20.200000000000003 L384.59999999999997,29.8 L380.2,39.4 L375.8,29.8 Z" fill="none" stroke="#b0389e" stroke-width="1.2" stroke-dasharray="1.3 1.1"/>
<path d="M372.0,36.7 L374.59999999999997,33.6 L376.0,36.7 Z M388.4,36.7 L385.8,33.6 L384.4,36.7 Z" fill="#b9883e"/>
<circle cx="380.2" cy="29.8" r="6.4" fill="none" stroke="#8890f0" stroke-width="1.7"/>
<path d="M380.2,19.8 L381.8,22.8 L378.59999999999997,22.8 Z M380.2,39.8 L381.8,36.8 L378.59999999999997,36.8 Z" fill="#a82898"/>
<defs><mask id="xmask" maskUnits="userSpaceOnUse" x="141" y="100.3" width="54.6" height="54"><rect x="141" y="100.3" width="54.6" height="54" fill="url(#xg)"/></mask>
<radialGradient id="xg" cx="0.5" cy="0.5" r="0.7"><stop offset="0.3" stop-color="#000"/><stop offset="0.85" stop-color="#fff"/></radialGradient></defs>
<rect x="183.8" y="26.3" width="55.4" height="54.7" fill="#828282"/>
<g opacity="0.75"><use href="#pc1" x="183.8" y="26.3" width="55.40" height="54.70"/></g>
<rect x="210.3" y="39.5" width="2.4" height="2" fill="#40e8e0"/>
<rect x="183.8" y="26.3" width="55.4" height="54.7" fill="none" stroke="#9a2490" stroke-width="1.35"/>
<rect x="141" y="100.3" width="54.6" height="54.0" fill="#828282"/>
<g filter="url(#bl05)">
<line x1="141" y1="100.3" x2="160.1" y2="119.2" stroke="url(#dg)" stroke-width="1.3" opacity="0.0"/>
<line x1="195.6" y1="100.3" x2="176.5" y2="119.2" stroke="url(#dg)" stroke-width="1.3" opacity="0.0"/>
<line x1="141" y1="154.3" x2="160.1" y2="135.4" stroke="url(#dg)" stroke-width="1.3" opacity="0.0"/>
<line x1="195.6" y1="154.3" x2="176.5" y2="135.4" stroke="url(#dg)" stroke-width="1.3" opacity="0.0"/>
</g>
<path d="M142,101.3 L194.6,153.3 M194.6,101.3 L142,153.3" fill="none" stroke="#a0a0a0" stroke-width="1.4" mask="url(#xmask)" filter="url(#bl05)"/>
<circle cx="168.3" cy="127.3" r="2" fill="#fff" opacity="0.2" filter="url(#bl05)"/>
<circle cx="168.3" cy="127.3" r="0.9" fill="#eee"/>
<circle cx="143" cy="152.3" r="1" fill="#d8d8d8" filter="url(#bl05)"/>
<circle cx="193.6" cy="152.3" r="1" fill="#d8d8d8" filter="url(#bl05)"/>
<circle cx="143" cy="102.3" r="1" fill="#d8d8d8" filter="url(#bl05)"/>
<circle cx="193.6" cy="102.3" r="1" fill="#d8d8d8" filter="url(#bl05)"/>
<rect x="167.10000000000002" y="113.1" width="2.4" height="2" fill="#40e8e0"/>
<rect x="141" y="100.3" width="54.6" height="54.0" fill="none" stroke="#9a2490" stroke-width="1.35"/>
<rect x="99.5" y="173.5" width="55.2" height="54.0" fill="#828282"/>
<g opacity="0.45"><use href="#pa4" x="99.5" y="173.5" width="55.20" height="54.00"/></g>
<rect x="125.7" y="186.7" width="2.4" height="2" fill="#40e8e0"/>
<rect x="99.5" y="173.5" width="55.2" height="54.0" fill="none" stroke="#9a2490" stroke-width="1.35"/>
<rect x="59.2" y="246.9" width="55.5" height="54.3" fill="#828282"/>
<g filter="url(#bl05)" opacity="0.8">
<path d="M61.2,270.249 l1.6,1.8 l-1.6,1.8 M61.2,274.593 l1.6,1.6 l-1.6,1.6 M112.7,270.249 l-1.6,1.8 l1.6,1.8 M112.7,274.593 l-1.6,1.6 l1.6,1.6" fill="none" stroke="#c0c0c0" stroke-width="1"/>
</g>
<rect x="85.7" y="259.8" width="2.4" height="2" fill="#40e8e0"/>
<rect x="59.2" y="246.9" width="55.5" height="54.3" fill="none" stroke="#9a2490" stroke-width="1.35"/>
<rect x="329.2" y="83.1" width="54.8" height="54.7" fill="#828282"/>
<g filter="url(#bl05)" opacity="0.8">
<path d="M331.2,106.62100000000001 l1.6,1.8 l-1.6,1.8 M331.2,110.997 l1.6,1.6 l-1.6,1.6 M382,106.62100000000001 l-1.6,1.8 l1.6,1.8 M382,110.997 l-1.6,1.6 l1.6,1.6" fill="none" stroke="#c0c0c0" stroke-width="1"/>
</g>
<rect x="355.40000000000003" y="96.3" width="2.4" height="2" fill="#40e8e0"/>
<rect x="329.2" y="83.1" width="54.8" height="54.7" fill="none" stroke="#9a2490" stroke-width="1.35"/>
<rect x="58.7" y="7.7" width="336.9" height="336.2" fill="none" stroke="#111" stroke-width="1.3"/>
<path d="M73.90,343.9 v-3.2 M73.90,7.7 v3.2 M150.48,343.9 v-3.2 M150.48,7.7 v3.2 M227.05,343.9 v-3.2 M227.05,7.7 v3.2 M303.62,343.9 v-3.2 M303.62,7.7 v3.2 M380.20,343.9 v-3.2 M380.20,7.7 v3.2 M58.7,328.30 h3.2 M395.6,328.30 h-3.2 M58.7,251.90 h3.2 M395.6,251.90 h-3.2 M58.7,175.50 h3.2 M395.6,175.50 h-3.2 M58.7,99.10 h3.2 M395.6,99.10 h-3.2 M58.7,22.70 h3.2 M395.6,22.70 h-3.2" stroke="#111" stroke-width="1.2"/>
<line x1="271.7" y1="278.2" x2="302.7" y2="278.2" stroke="#c070c0" stroke-width="1.4" stroke-dasharray="1.2 2.2"/>
<path d="M287.2,275.0 L289.4,278.2 L287.2,281.4 L285.0,278.2 Z" fill="#c070c0"/>
<line x1="271.7" y1="300.1" x2="302.7" y2="300.1" stroke="#c9a070" stroke-width="1.4" stroke-dasharray=""/>
<path d="M287.2,297.1 L290.2,302.5 L284.2,302.5 Z" fill="#c9a070"/>
<line x1="271.7" y1="321.7" x2="302.7" y2="321.7" stroke="#a4aaf4" stroke-width="1.4" stroke-dasharray="4 2.4"/>
<circle cx="287.2" cy="321.7" r="2.6" fill="#a4aaf4"/>
<g clip-path="url(#clipB)">
<line x1="457.50" y1="278.96" x2="509.9" y2="264" stroke="#b9883e" stroke-width="2.6"/>
<path d="M457.50,276.96 l2.00,3.40 h-4.00 Z" fill="none" stroke="#b9883e" stroke-width="1" stroke-opacity="0.8"/>
<path d="M459.82,276.39 l2.00,3.40 h-4.00 Z" fill="none" stroke="#b9883e" stroke-width="1" stroke-opacity="0.8"/>
<path d="M462.13,275.82 l2.00,3.40 h-4.00 Z" fill="none" stroke="#b9883e" stroke-width="1" stroke-opacity="0.8"/>
<path d="M464.45,275.25 l2.00,3.40 h-4.00 Z" fill="none" stroke="#b9883e" stroke-width="1" stroke-opacity="0.8"/>
<path d="M466.76,274.68 l2.00,3.40 h-4.00 Z" fill="none" stroke="#b9883e" stroke-width="1" stroke-opacity="0.8"/>
<path d="M469.08,274.10 l2.00,3.40 h-4.00 Z" fill="none" stroke="#b9883e" stroke-width="1" stroke-opacity="0.8"/>
<path d="M471.40,273.53 l2.00,3.40 h-4.00 Z" fill="none" stroke="#b9883e" stroke-width="1" stroke-opacity="0.8"/>
<path d="M473.71,272.96 l2.00,3.40 h-4.00 Z" fill="none" stroke="#b9883e" stroke-width="1" stroke-opacity="0.8"/>
<path d="M476.03,272.39 l2.00,3.40 h-4.00 Z" fill="none" stroke="#b9883e" stroke-width="1" stroke-opacity="0.8"/>
<path d="M478.34,271.82 l2.00,3.40 h-4.00 Z" fill="none" stroke="#b9883e" stroke-width="1" stroke-opacity="0.8"/>
<path d="M480.66,271.25 l2.00,3.40 h-4.00 Z" fill="none" stroke="#b9883e" stroke-width="1" stroke-opacity="0.8"/>
<path d="M482.98,270.67 l2.00,3.40 h-4.00 Z" fill="none" stroke="#b9883e" stroke-width="1" stroke-opacity="0.8"/>
<path d="M485.29,270.10 l2.00,3.40 h-4.00 Z" fill="none" stroke="#b9883e" stroke-width="1" stroke-opacity="0.8"/>
<path d="M487.61,269.53 l2.00,3.40 h-4.00 Z" fill="none" stroke="#b9883e" stroke-width="1" stroke-opacity="0.8"/>
<path d="M489.93,268.96 l2.00,3.40 h-4.00 Z" fill="none" stroke="#b9883e" stroke-width="1" stroke-opacity="0.8"/>
<path d="M492.24,268.39 l2.00,3.40 h-4.00 Z" fill="none" stroke="#b9883e" stroke-width="1" stroke-opacity="0.8"/>
<path d="M494.56,267.82 l2.00,3.40 h-4.00 Z" fill="none" stroke="#b9883e" stroke-width="1" stroke-opacity="0.8"/>
<path d="M496.87,267.25 l2.00,3.40 h-4.00 Z" fill="none" stroke="#b9883e" stroke-width="1" stroke-opacity="0.8"/>
<path d="M499.19,266.67 l2.00,3.40 h-4.00 Z" fill="none" stroke="#b9883e" stroke-width="1" stroke-opacity="0.8"/>
<path d="M501.51,266.10 l2.00,3.40 h-4.00 Z" fill="none" stroke="#b9883e" stroke-width="1" stroke-opacity="0.8"/>
<path d="M503.82,265.53 l2.00,3.40 h-4.00 Z" fill="none" stroke="#b9883e" stroke-width="1" stroke-opacity="0.8"/>
<path d="M506.14,264.96 l2.00,3.40 h-4.00 Z" fill="none" stroke="#b9883e" stroke-width="1" stroke-opacity="0.8"/>
<path d="M508.45,264.39 l2.00,3.40 h-4.00 Z" fill="none" stroke="#b9883e" stroke-width="1" stroke-opacity="0.8"/>
<path d="M510.77,263.82 l2.00,3.40 h-4.00 Z" fill="none" stroke="#b9883e" stroke-width="1" stroke-opacity="0.8"/>
<line x1="509.9" y1="264" x2="512" y2="84" stroke="#c4a06a" stroke-width="1.3"/>
<line x1="512" y1="84" x2="644.12" y2="61" stroke="#b9883e" stroke-width="2.6"/>
<line x1="457.50" y1="272.1" x2="515.7" y2="258.1" stroke="#9aa2f8" stroke-width="3.6" stroke-opacity="0.85"/>
<circle cx="457.50" cy="274.38" r="2" fill="none" stroke="#8c96f8" stroke-width="1.1" stroke-opacity="0.7"/>
<circle cx="460.01" cy="273.76" r="2" fill="none" stroke="#8c96f8" stroke-width="1.1" stroke-opacity="0.7"/>
<circle cx="462.52" cy="273.15" r="2" fill="none" stroke="#8c96f8" stroke-width="1.1" stroke-opacity="0.7"/>
<circle cx="465.02" cy="272.54" r="2" fill="none" stroke="#8c96f8" stroke-width="1.1" stroke-opacity="0.7"/>
<circle cx="467.53" cy="271.93" r="2" fill="none" stroke="#8c96f8" stroke-width="1.1" stroke-opacity="0.7"/>
<circle cx="470.04" cy="271.32" r="2" fill="none" stroke="#8c96f8" stroke-width="1.1" stroke-opacity="0.7"/>
<circle cx="472.55" cy="270.71" r="2" fill="none" stroke="#8c96f8" stroke-width="1.1" stroke-opacity="0.7"/>
<circle cx="475.06" cy="270.10" r="2" fill="none" stroke="#8c96f8" stroke-width="1.1" stroke-opacity="0.7"/>
<circle cx="477.56" cy="269.48" r="2" fill="none" stroke="#8c96f8" stroke-width="1.1" stroke-opacity="0.7"/>
<circle cx="480.07" cy="268.87" r="2" fill="none" stroke="#8c96f8" stroke-width="1.1" stroke-opacity="0.7"/>
<circle cx="482.58" cy="268.26" r="2" fill="none" stroke="#8c96f8" stroke-width="1.1" stroke-opacity="0.7"/>
<circle cx="485.09" cy="267.65" r="2" fill="none" stroke="#8c96f8" stroke-width="1.1" stroke-opacity="0.7"/>
<circle cx="487.59" cy="267.04" r="2" fill="none" stroke="#8c96f8" stroke-width="1.1" stroke-opacity="0.7"/>
<circle cx="490.10" cy="266.43" r="2" fill="none" stroke="#8c96f8" stroke-width="1.1" stroke-opacity="0.7"/>
<circle cx="492.61" cy="265.82" r="2" fill="none" stroke="#8c96f8" stroke-width="1.1" stroke-opacity="0.7"/>
<circle cx="495.12" cy="265.21" r="2" fill="none" stroke="#8c96f8" stroke-width="1.1" stroke-opacity="0.7"/>
<circle cx="497.63" cy="264.59" r="2" fill="none" stroke="#8c96f8" stroke-width="1.1" stroke-opacity="0.7"/>
<circle cx="500.13" cy="263.98" r="2" fill="none" stroke="#8c96f8" stroke-width="1.1" stroke-opacity="0.7"/>
<circle cx="502.64" cy="263.37" r="2" fill="none" stroke="#8c96f8" stroke-width="1.1" stroke-opacity="0.7"/>
<circle cx="505.15" cy="262.76" r="2" fill="none" stroke="#8c96f8" stroke-width="1.1" stroke-opacity="0.7"/>
<circle cx="507.66" cy="262.15" r="2" fill="none" stroke="#8c96f8" stroke-width="1.1" stroke-opacity="0.7"/>
<circle cx="510.17" cy="261.54" r="2" fill="none" stroke="#8c96f8" stroke-width="1.1" stroke-opacity="0.7"/>
<circle cx="512.67" cy="260.93" r="2" fill="none" stroke="#8c96f8" stroke-width="1.1" stroke-opacity="0.7"/>
<circle cx="515.18" cy="260.31" r="2" fill="none" stroke="#8c96f8" stroke-width="1.1" stroke-opacity="0.7"/>
<line x1="515.5" y1="258" x2="518.1" y2="82" stroke="#8c96f0" stroke-width="1.1" stroke-dasharray="4 2.5"/>
<line x1="457.50" y1="293.7" x2="519.3" y2="287.3" stroke="#c060b8" stroke-width="2.5"/>
<path d="M457.50,290.31 l1.61,3.45 l-1.61,3.45 l-1.61,-3.45 Z" fill="none" stroke="#b84aac" stroke-width="1" stroke-opacity="0.8"/>
<path d="M460.47,290.00 l1.61,3.45 l-1.61,3.45 l-1.61,-3.45 Z" fill="none" stroke="#b84aac" stroke-width="1" stroke-opacity="0.8"/>
<path d="M463.45,289.70 l1.61,3.45 l-1.61,3.45 l-1.61,-3.45 Z" fill="none" stroke="#b84aac" stroke-width="1" stroke-opacity="0.8"/>
<path d="M466.42,289.39 l1.61,3.45 l-1.61,3.45 l-1.61,-3.45 Z" fill="none" stroke="#b84aac" stroke-width="1" stroke-opacity="0.8"/>
<path d="M469.39,289.08 l1.61,3.45 l-1.61,3.45 l-1.61,-3.45 Z" fill="none" stroke="#b84aac" stroke-width="1" stroke-opacity="0.8"/>
<path d="M472.36,288.78 l1.61,3.45 l-1.61,3.45 l-1.61,-3.45 Z" fill="none" stroke="#b84aac" stroke-width="1" stroke-opacity="0.8"/>
<path d="M475.34,288.47 l1.61,3.45 l-1.61,3.45 l-1.61,-3.45 Z" fill="none" stroke="#b84aac" stroke-width="1" stroke-opacity="0.8"/>
<path d="M478.31,288.17 l1.61,3.45 l-1.61,3.45 l-1.61,-3.45 Z" fill="none" stroke="#b84aac" stroke-width="1" stroke-opacity="0.8"/>
<path d="M481.28,287.86 l1.61,3.45 l-1.61,3.45 l-1.61,-3.45 Z" fill="none" stroke="#b84aac" stroke-width="1" stroke-opacity="0.8"/>
<path d="M484.26,287.56 l1.61,3.45 l-1.61,3.45 l-1.61,-3.45 Z" fill="none" stroke="#b84aac" stroke-width="1" stroke-opacity="0.8"/>
<path d="M487.23,287.25 l1.61,3.45 l-1.61,3.45 l-1.61,-3.45 Z" fill="none" stroke="#b84aac" stroke-width="1" stroke-opacity="0.8"/>
<path d="M490.20,286.94 l1.61,3.45 l-1.61,3.45 l-1.61,-3.45 Z" fill="none" stroke="#b84aac" stroke-width="1" stroke-opacity="0.8"/>
<path d="M493.17,286.64 l1.61,3.45 l-1.61,3.45 l-1.61,-3.45 Z" fill="none" stroke="#b84aac" stroke-width="1" stroke-opacity="0.8"/>
<path d="M496.15,286.33 l1.61,3.45 l-1.61,3.45 l-1.61,-3.45 Z" fill="none" stroke="#b84aac" stroke-width="1" stroke-opacity="0.8"/>
<path d="M499.12,286.03 l1.61,3.45 l-1.61,3.45 l-1.61,-3.45 Z" fill="none" stroke="#b84aac" stroke-width="1" stroke-opacity="0.8"/>
<path d="M502.09,285.72 l1.61,3.45 l-1.61,3.45 l-1.61,-3.45 Z" fill="none" stroke="#b84aac" stroke-width="1" stroke-opacity="0.8"/>
<path d="M505.07,285.42 l1.61,3.45 l-1.61,3.45 l-1.61,-3.45 Z" fill="none" stroke="#b84aac" stroke-width="1" stroke-opacity="0.8"/>
<path d="M508.04,285.11 l1.61,3.45 l-1.61,3.45 l-1.61,-3.45 Z" fill="none" stroke="#b84aac" stroke-width="1" stroke-opacity="0.8"/>
<path d="M511.01,284.80 l1.61,3.45 l-1.61,3.45 l-1.61,-3.45 Z" fill="none" stroke="#b84aac" stroke-width="1" stroke-opacity="0.8"/>
<path d="M513.99,284.50 l1.61,3.45 l-1.61,3.45 l-1.61,-3.45 Z" fill="none" stroke="#b84aac" stroke-width="1" stroke-opacity="0.8"/>
<path d="M516.96,284.19 l1.61,3.45 l-1.61,3.45 l-1.61,-3.45 Z" fill="none" stroke="#b84aac" stroke-width="1" stroke-opacity="0.8"/>
<path d="M519.93,283.89 l1.61,3.45 l-1.61,3.45 l-1.61,-3.45 Z" fill="none" stroke="#b84aac" stroke-width="1" stroke-opacity="0.8"/>
<line x1="519.3" y1="287.3" x2="522" y2="81" stroke="#c050b8" stroke-width="1.1" stroke-dasharray="1 1.8"/>
<path d="M520,80.5 L647.51,57.6" stroke="#a070d0" stroke-width="6.5" stroke-opacity="0.9"/>
<path d="M520,82 L647.51,59.5" stroke="#7e7cea" stroke-width="4"/>
<path d="M520,84.5 L647.51,62.5" stroke="#b9883e" stroke-width="1.2"/>
<path d="M524.00,74.78 l1.7,3.8 h-3.4 Z" fill="#c060c0" fill-opacity="0.85"/>
<path d="M527.60,74.14 l1.7,3.8 h-3.4 Z" fill="#c060c0" fill-opacity="0.85"/>
<path d="M531.20,73.49 l1.7,3.8 h-3.4 Z" fill="#c060c0" fill-opacity="0.85"/>
<path d="M534.80,72.84 l1.7,3.8 h-3.4 Z" fill="#c060c0" fill-opacity="0.85"/>
<path d="M538.40,72.20 l1.7,3.8 h-3.4 Z" fill="#c060c0" fill-opacity="0.85"/>
<path d="M542.00,71.55 l1.7,3.8 h-3.4 Z" fill="#c060c0" fill-opacity="0.85"/>
<path d="M545.60,70.90 l1.7,3.8 h-3.4 Z" fill="#c060c0" fill-opacity="0.85"/>
<path d="M549.20,70.26 l1.7,3.8 h-3.4 Z" fill="#c060c0" fill-opacity="0.85"/>
<path d="M552.80,69.61 l1.7,3.8 h-3.4 Z" fill="#c060c0" fill-opacity="0.85"/>
<path d="M556.40,68.96 l1.7,3.8 h-3.4 Z" fill="#c060c0" fill-opacity="0.85"/>
<path d="M560.00,68.32 l1.7,3.8 h-3.4 Z" fill="#c060c0" fill-opacity="0.85"/>
<path d="M563.60,67.67 l1.7,3.8 h-3.4 Z" fill="#c060c0" fill-opacity="0.85"/>
<path d="M567.20,67.02 l1.7,3.8 h-3.4 Z" fill="#c060c0" fill-opacity="0.85"/>
<path d="M570.80,66.38 l1.7,3.8 h-3.4 Z" fill="#c060c0" fill-opacity="0.85"/>
<path d="M574.40,65.73 l1.7,3.8 h-3.4 Z" fill="#c060c0" fill-opacity="0.85"/>
<path d="M578.00,65.08 l1.7,3.8 h-3.4 Z" fill="#c060c0" fill-opacity="0.85"/>
<path d="M581.60,64.44 l1.7,3.8 h-3.4 Z" fill="#c060c0" fill-opacity="0.85"/>
<path d="M585.20,63.79 l1.7,3.8 h-3.4 Z" fill="#c060c0" fill-opacity="0.85"/>
<path d="M588.80,63.14 l1.7,3.8 h-3.4 Z" fill="#c060c0" fill-opacity="0.85"/>
<path d="M592.40,62.50 l1.7,3.8 h-3.4 Z" fill="#c060c0" fill-opacity="0.85"/>
<path d="M596.00,61.85 l1.7,3.8 h-3.4 Z" fill="#c060c0" fill-opacity="0.85"/>
<path d="M599.60,61.20 l1.7,3.8 h-3.4 Z" fill="#c060c0" fill-opacity="0.85"/>
<path d="M603.20,60.56 l1.7,3.8 h-3.4 Z" fill="#c060c0" fill-opacity="0.85"/>
<path d="M606.80,59.91 l1.7,3.8 h-3.4 Z" fill="#c060c0" fill-opacity="0.85"/>
<path d="M610.40,59.26 l1.7,3.8 h-3.4 Z" fill="#c060c0" fill-opacity="0.85"/>
<path d="M614.00,58.62 l1.7,3.8 h-3.4 Z" fill="#c060c0" fill-opacity="0.85"/>
<path d="M617.60,57.97 l1.7,3.8 h-3.4 Z" fill="#c060c0" fill-opacity="0.85"/>
<path d="M621.20,57.32 l1.7,3.8 h-3.4 Z" fill="#c060c0" fill-opacity="0.85"/>
<path d="M624.80,56.68 l1.7,3.8 h-3.4 Z" fill="#c060c0" fill-opacity="0.85"/>
<path d="M628.40,56.03 l1.7,3.8 h-3.4 Z" fill="#c060c0" fill-opacity="0.85"/>
<path d="M632.00,55.39 l1.7,3.8 h-3.4 Z" fill="#c060c0" fill-opacity="0.85"/>
<path d="M635.60,54.74 l1.7,3.8 h-3.4 Z" fill="#c060c0" fill-opacity="0.85"/>
<path d="M639.20,54.09 l1.7,3.8 h-3.4 Z" fill="#c060c0" fill-opacity="0.85"/>
<path d="M642.80,53.45 l1.7,3.8 h-3.4 Z" fill="#c060c0" fill-opacity="0.85"/>
</g>
<path d="M512,76 L520.1,92 L503.8,92 Z" fill="none" stroke="#b9883e" stroke-width="1.4"/>
<circle cx="518.1" cy="81.6" r="7.6" fill="none" stroke="#8e98f2" stroke-width="1.5"/>
<path d="M522,69.3 L528.4,80.3 L522,91.3 L515.6,80.3 Z" fill="none" stroke="#b0389e" stroke-width="1.3"/>
<rect x="457.5" y="7.5" width="186.6" height="336.0" fill="none" stroke="#111" stroke-width="1.3"/>
<path d="M474.46,343.5 v-3.2 M474.46,7.5 v3.2 M559.29,343.5 v-3.2 M559.29,7.5 v3.2 M644.12,343.5 v-3.2 M644.12,7.5 v3.2 M644.1,313.20 h-3.2 M644.1,252.06 h-3.2 M644.1,190.92 h-3.2 M644.1,129.78 h-3.2 M644.1,68.64 h-3.2 M644.1,7.50 h-3.2" stroke="#111" stroke-width="1.2"/>
<use href="#pc1" x="54.2" y="414.0" width="126.60" height="125.80"/>
<ellipse cx="117.8" cy="445.8" rx="4.8" ry="3.3" fill="#e8e8e8" opacity="0.8" filter="url(#bl1)"/>
<rect x="115.2" y="443.5" width="5.1" height="4.6" fill="#3de8e0"/>
<use href="#pc2" x="278.0" y="414.9" width="126.60" height="124.90"/>
<rect x="307.8" y="444.3" width="4.8" height="4.6" fill="#3de8e0"/>
<use href="#pc3" x="500.1" y="413.8" width="126.90" height="126.30"/>
<rect x="529.8" y="475.5" width="4.8" height="4.7" fill="#3de8e0"/>
<rect x="189.2" y="413.8" width="6.4" height="126.6" fill="url(#cbar)" stroke="#111" stroke-width="1.1"/>
<path d="M195.60,540.40 h-2 M195.60,508.75 h-2 M195.60,477.10 h-2 M195.60,445.45 h-2 M195.60,413.80 h-2" stroke="#111" stroke-width="1"/>
<rect x="412.4" y="413.8" width="6.9" height="126.6" fill="url(#cbar)" stroke="#111" stroke-width="1.1"/>
<path d="M419.30,540.40 h-2 M419.30,508.75 h-2 M419.30,477.10 h-2 M419.30,445.45 h-2 M419.30,413.80 h-2" stroke="#111" stroke-width="1"/>
<rect x="635.9" y="413.8" width="6.9" height="126.6" fill="url(#cbar)" stroke="#111" stroke-width="1.1"/>
<path d="M642.80,540.40 h-2 M642.80,508.75 h-2 M642.80,477.10 h-2 M642.80,445.45 h-2 M642.80,413.80 h-2" stroke="#111" stroke-width="1"/>
<rect x="580.9" y="542" width="42.1" height="2.1" fill="#000"/>
<line x1="1.2" y1="542.9" x2="33" y2="542.9" stroke="#000" stroke-width="1.7"/>
<path d="M39.7,542.9 L31.5,539.2 L31.5,546.7 Z" fill="#000"/>
<rect x="55.8" y="549" width="11.1" height="10.8" fill="#3de8e0"/>
<rect x="173.1" y="11.0" width="75.70000000000002" height="13.600000000000001" fill="#fff"/>
<text x="172.93" y="22.36" font-size="13.65">(a.2) C-state</text>
<rect x="129.1" y="86.1" width="77.70000000000002" height="13.600000000000009" fill="#fff"/>
<text x="129.32" y="97.46" font-size="13.65">(a.3) Landau</text>
<rect x="88.7" y="158.8" width="76.2" height="13.599999999999994" fill="#fff"/>
<text x="88.78" y="170.16" font-size="13.65">(a.4) C-state</text>
<rect x="39.2" y="230.7" width="94.39999999999999" height="13.600000000000023" fill="#fff"/>
<text x="39.38" y="242.06" font-size="13.65">(a.5) Saturation</text>
<rect x="308.8" y="67.5" width="94.80000000000001" height="13.599999999999994" fill="#fff"/>
<text x="309.18" y="78.86" font-size="13.65">(a.1) Saturation</text>
<text x="35.52" y="28.40" font-size="15.10">1.0</text>
<text x="35.52" y="104.80" font-size="15.10">0.5</text>
<text x="35.52" y="181.20" font-size="15.10">0.0</text>
<text x="26.76" y="257.60" font-size="15.10">−0.5</text>
<text x="26.76" y="334.00" font-size="15.10">−1.0</text>
<text x="52.61" y="356.80" font-size="15.10">−1000</text>
<text x="133.41" y="356.80" font-size="15.10">−500</text>
<text x="222.82" y="356.80" font-size="15.10">0</text>
<text x="291.02" y="356.80" font-size="15.10">500</text>
<text x="363.14" y="356.80" font-size="15.10">1000</text>
<text x="201.24" y="372.40" font-size="15.30"><tspan font-style="italic">B</tspan><tspan font-style="italic" font-size="72%" dy="0.3em">x</tspan><tspan dy="-0.216em"> (Oe)</tspan></text>
<text transform="translate(21.00,197.29) rotate(-90)" font-size="16.26"><tspan font-style="italic">M</tspan><tspan font-style="italic" font-size="72%" dy="0.3em">x</tspan><tspan font-style="italic" dy="-0.216em">/M</tspan><tspan font-style="italic" font-size="72%" dy="0.3em">s</tspan></text>
<text x="314.78" y="283.80" font-size="15.25">Up</text>
<text x="314.78" y="305.40" font-size="15.25">Upper left</text>
<text x="314.78" y="326.40" font-size="15.25">Left</text>
<text x="6.04" y="17.98" font-size="23.12" font-weight="bold">(a)</text>
<text x="424.30" y="17.32" font-size="21.95" font-weight="bold">(b)</text>
<text x="6.44" y="487.18" font-size="23.13" font-weight="bold">(c)</text>
<text x="461.78" y="356.80" font-size="15.10">275</text>
<text x="546.68" y="356.80" font-size="15.10">300</text>
<text x="631.51" y="356.80" font-size="15.10">325</text>
<text x="645.80" y="318.90" font-size="15.10">0.4</text>
<text x="645.80" y="257.76" font-size="15.10">0.5</text>
<text x="645.80" y="196.62" font-size="15.10">0.6</text>
<text x="645.80" y="135.48" font-size="15.10">0.7</text>
<text x="645.80" y="74.34" font-size="15.10">0.8</text>
<text x="645.80" y="13.20" font-size="15.10">0.9</text>
<text x="524.54" y="372.40" font-size="15.42"><tspan font-style="italic">B</tspan><tspan font-style="italic" font-size="72%" dy="0.3em">x</tspan><tspan dy="-0.216em"> (Oe)</tspan></text>
<text transform="translate(681.00,198.09) rotate(-90)" font-size="16.45"><tspan font-style="italic">M</tspan><tspan font-style="italic" font-size="72%" dy="0.3em">x</tspan><tspan font-style="italic" dy="-0.216em">/M</tspan><tspan font-style="italic" font-size="72%" dy="0.3em">s</tspan></text>
<rect x="433" y="31" width="94" height="15" fill="#fff"/>
<text x="434.49" y="43.80" font-size="13.65">(c.2) Upper-left</text>
<rect x="542.7" y="15.9" width="50.0" height="13.200000000000001" fill="#fff"/>
<text x="543.33" y="26.10" font-size="13.65">(c.1) Up</text>
<rect x="540.2" y="109.2" width="55.19999999999993" height="13.200000000000003" fill="#fff"/>
<text x="540.50" y="119.40" font-size="13.65">(c.3) Left</text>
<text x="197.15" y="544.30" font-size="11.20">0.00</text>
<text x="197.15" y="512.65" font-size="11.20">0.25</text>
<text x="197.15" y="481.00" font-size="11.20">0.50</text>
<text x="197.15" y="449.35" font-size="11.20">0.75</text>
<text x="196.70" y="417.70" font-size="11.20">1.00</text>
<text transform="translate(230.50,486.89) rotate(-90)" font-size="12.16">|<tspan font-style="italic">M</tspan><tspan font-style="italic" font-size="72%" dy="0.3em">z</tspan><tspan dy="-0.216em">|</tspan></text>
<text x="420.85" y="544.30" font-size="11.20">0.00</text>
<text x="420.85" y="512.65" font-size="11.20">0.25</text>
<text x="420.85" y="481.00" font-size="11.20">0.50</text>
<text x="420.85" y="449.35" font-size="11.20">0.75</text>
<text x="420.40" y="417.70" font-size="11.20">1.00</text>
<text transform="translate(454.20,486.89) rotate(-90)" font-size="12.16">|<tspan font-style="italic">M</tspan><tspan font-style="italic" font-size="72%" dy="0.3em">z</tspan><tspan dy="-0.216em">|</tspan></text>
<text x="644.35" y="544.30" font-size="11.20">0.00</text>
<text x="644.35" y="512.65" font-size="11.20">0.25</text>
<text x="644.35" y="481.00" font-size="11.20">0.50</text>
<text x="644.35" y="449.35" font-size="11.20">0.75</text>
<text x="643.90" y="417.70" font-size="11.20">1.00</text>
<text transform="translate(677.70,486.89) rotate(-90)" font-size="12.16">|<tspan font-style="italic">M</tspan><tspan font-style="italic" font-size="72%" dy="0.3em">z</tspan><tspan dy="-0.216em">|</tspan></text>
<text x="87.05" y="409.30" font-size="17.57">(c.1) Up</text>
<text x="283.75" y="409.20" font-size="17.48">(c.2) Upper-left</text>
<text x="529.46" y="409.30" font-size="17.35">(c.3) Left</text>
<text x="578.72" y="558.80" font-size="13.75">400 nm</text>
<text x="13.81" y="559.00" font-size="13.09"><tspan font-style="italic">B</tspan><tspan font-size="68%" dy="0.25em">x</tspan></text>
<text x="70.76" y="558.50" font-size="13.73">: point defect</text>
</svg></body></html>
